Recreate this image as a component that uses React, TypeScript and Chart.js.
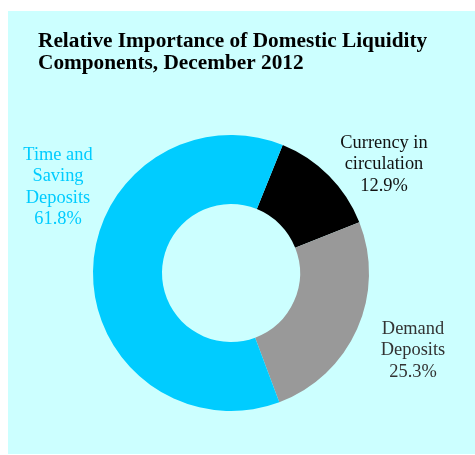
import React, { useEffect, useRef } from "react";
import { Chart, registerables } from "chart.js";

Chart.register(...registerables);

const TITLE_LINES = ["Relative Importance of Domestic Liquidity", "Components, December 2012"];
const CATEGORIES = ["Currency in circulation", "Demand Deposits", "Time and Saving Deposits"];
const LABEL_LINES = [
  ["Currency in", "circulation"],
  ["Demand", "Deposits"],
  ["Time and", "Saving", "Deposits"],
];
const VALUES = [12.9, 25.3, 61.8];
const COLORS = ["#000000", "#999999", "#00ccff"];
const TEXT_COLORS = ["#111111", "#333333", "#00ccff"];
// label anchor (center x, first baseline y) in canvas coordinates
const LABEL_POS = [
  [376, 137],
  [405, 323],
  [50, 149],
];

const BG = "#ccffff";

export default function App() {
  const ref = useRef<HTMLCanvasElement | null>(null);
  useEffect(() => {
    if (!ref.current) return;
    const textPlugin = {
      id: "texts",
      afterDraw(chart: any) {
        const ctx = chart.ctx;
        ctx.save();
        ctx.fillStyle = "#000";
        ctx.textAlign = "left";
        ctx.textBaseline = "alphabetic";
        ctx.font = "bold 21.3px 'Liberation Serif', 'Times New Roman', serif";
        TITLE_LINES.forEach((t, i) => ctx.fillText(t, 30, 36 + i * 22));
        ctx.font = "18.4px 'Liberation Serif', 'Times New Roman', serif";
        ctx.textAlign = "center";
        CATEGORIES.forEach((_, i) => {
          const lines = [...LABEL_LINES[i], VALUES[i].toFixed(1) + "%"];
          ctx.fillStyle = TEXT_COLORS[i];
          lines.forEach((l, j) => ctx.fillText(l, LABEL_POS[i][0], LABEL_POS[i][1] + j * 21.3));
        });
        ctx.restore();
      },
    };
    const chart = new Chart(ref.current, {
      type: "doughnut",
      data: {
        labels: CATEGORIES,
        datasets: [
          {
            data: VALUES,
            backgroundColor: COLORS,
            borderWidth: 0,
          },
        ],
      },
      options: {
        animation: false,
        responsive: false,
        maintainAspectRatio: false,
        rotation: 22,
        cutout: "50%",
        layout: { padding: { left: 85, right: 106, top: 124, bottom: 43 } },
        plugins: {
          legend: { display: false },
          tooltip: { enabled: false },
          title: { display: false },
        },
      },
      plugins: [textPlugin],
    });
    return () => chart.destroy();
  }, []);
  return (
    <div
      style={{
        position: "absolute",
        left: 8,
        top: 11,
        width: 467,
        height: 443,
        background: BG,
      }}
    >
      <canvas ref={ref} width={467} height={443} style={{ display: "block" }} />
    </div>
  );
}
